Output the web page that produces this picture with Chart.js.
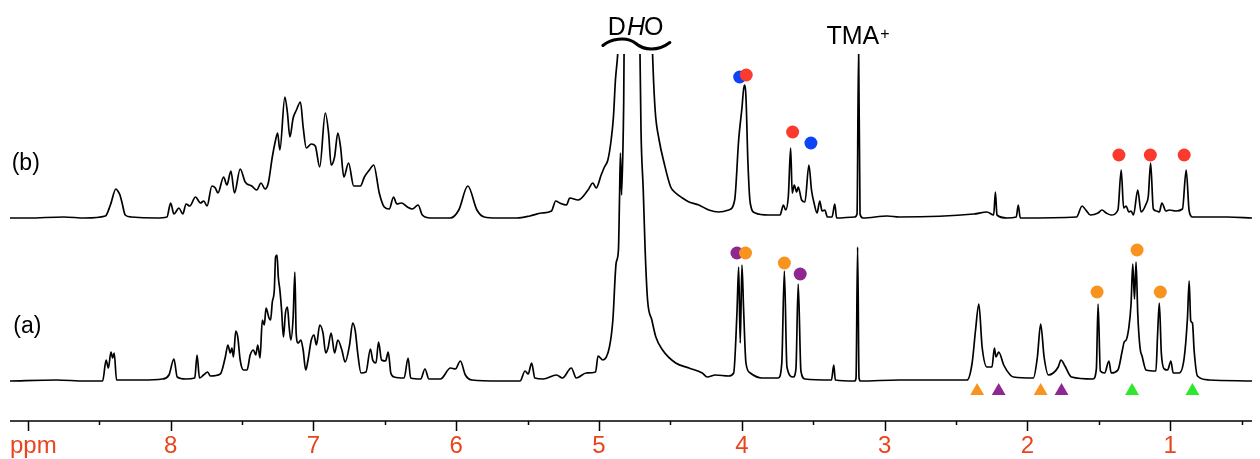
<!DOCTYPE html>
<html>
<head>
<meta charset="utf-8">
<script src="https://cdn.jsdelivr.net/npm/chart.js@4/dist/chart.umd.min.js"></script>
<style>
  html, body { margin: 0; padding: 0; background: #fff; }
  #wrap { width: 1260px; height: 459px; }
</style>
</head>
<body>
<div id="wrap"><canvas id="nmr"></canvas></div>
<script>
// spectrum (b): [ppm, intensity above its baseline]
const TRACE_B = [
  [9.125,0],[9.0,0],[8.75,1],[8.6,0],[8.457,2],[8.422,13],[8.383,29],[8.37,27],[8.355,23],[8.34,15],[8.318,3],[8.276,1],
  [8.10,0],[8.026,1],[8.000,15],[7.977,4],[7.942,10],[7.915,4],[7.892,14],[7.866,12],[7.826,21],[7.791,15],[7.768,17],
  [7.745,12],[7.711,32],[7.687,30],[7.669,25],[7.629,41],[7.606,33],[7.578,47],[7.553,25],[7.513,49],[7.478,36],
  [7.432,32],[7.397,28],[7.367,35],[7.339,29],[7.316,35],[7.288,61],[7.265,78],[7.251,85],[7.235,68],[7.200,121],
  [7.182,105],[7.165,81],[7.142,100],[7.119,108],[7.091,116],[7.072,91],[7.050,70],[7.015,74],[6.987,72],[6.956,51],
  [6.917,105],[6.894,85],[6.876,53],[6.852,61],[6.829,85],[6.810,71],[6.787,41],[6.754,55],[6.718,32],[6.671,32],
  [6.643,41],[6.608,48],[6.578,53],[6.539,25],[6.504,11],[6.469,9],[6.439,21],[6.416,14],[6.384,15],[6.342,11],
  [6.307,9],[6.267,13],[6.237,3],[6.180,0],[6.042,0],[5.982,8],[5.919,32],[5.855,8],[5.804,1],[5.715,0],[5.576,0],
  [5.484,2],[5.402,5],[5.333,7],[5.303,17],[5.275,15],[5.228,13],[5.205,20],[5.147,18],[5.077,28],[5.043,35],
  [5.020,30],[4.985,43],[4.962,51],[4.938,58],[4.915,78],[4.899,101],[4.885,138],[4.869,164],[4.860,190],[4.741,700],
  [4.630,190],[4.625,164],[4.607,108],[4.579,78],[4.544,55],[4.498,31],[4.463,25],[4.416,20],[4.370,16],[4.301,13],
  [4.231,8],[4.162,6],[4.092,8],[4.050,18],[4.022,78],[3.999,110],[3.983,133],[3.971,121],[3.957,55],[3.941,15],
  [3.906,5],[3.814,3],[3.732,3],[3.709,13],[3.693,8],[3.674,22],[3.658,70],[3.647,25],[3.633,33],[3.616,26],
  [3.605,31],[3.581,18],[3.558,16],[3.530,53],[3.512,28],[3.494,15],[3.473,5],[3.454,17],[3.438,7],[3.419,8],
  [3.400,1],[3.368,1],[3.349,14],[3.336,0],[3.210,1],[3.193,4],[3.182,170],[3.172,4],[3.152,0],[2.981,2],[2.897,1],
  [2.375,4],[2.283,6],[2.236,3],[2.224,26],[2.213,3],[2.143,0],[2.078,1],[2.064,13],[2.050,0],[1.656,1],[1.617,12],
  [1.591,8],[1.559,3],[1.505,5],[1.478,8],[1.448,5],[1.413,3],[1.366,8],[1.343,48],[1.326,10],[1.308,12],[1.290,6],
  [1.274,7],[1.257,3],[1.227,28],[1.204,6],[1.169,14],[1.153,22],[1.137,55],[1.118,9],[1.095,7],[1.076,6],[1.058,15],
  [1.030,7],[1.006,8],[0.960,7],[0.914,9],[0.888,48],[0.867,7],[0.844,1],[0.60,1],[0.427,0]
];

// spectrum (a)
const TRACE_A = [
  [9.125,0],[8.80,1],[8.60,0],[8.476,0],[8.452,21],[8.436,13],[8.418,29],[8.406,23],[8.395,28],[8.379,1],[8.20,1],
  [8.058,2],[8.012,6],[7.977,22],[7.954,4],[7.896,2],[7.831,3],[7.815,26],[7.798,3],[7.77,6],[7.741,9],[7.722,5],
  [7.652,7],[7.617,24],[7.599,36],[7.582,28],[7.571,33],[7.560,24],[7.544,50],[7.530,44],[7.513,21],[7.490,11],
  [7.465,11],[7.443,26],[7.420,31],[7.404,26],[7.390,36],[7.374,23],[7.358,61],[7.344,56],[7.332,73],[7.311,63],
  [7.300,61],[7.288,79],[7.274,91],[7.265,124],[7.255,126],[7.246,104],[7.235,91],[7.223,71],[7.210,44],[7.196,68],
  [7.182,74],[7.170,54],[7.158,41],[7.142,64],[7.130,109],[7.121,48],[7.107,38],[7.088,41],[7.072,31],[7.054,11],
  [7.038,21],[7.015,41],[6.996,46],[6.979,36],[6.956,56],[6.933,48],[6.914,28],[6.898,33],[6.876,48],[6.852,28],
  [6.829,41],[6.801,31],[6.778,19],[6.747,36],[6.725,58],[6.707,50],[6.690,28],[6.667,8],[6.632,9],[6.601,32],
  [6.585,21],[6.562,18],[6.544,39],[6.523,21],[6.495,20],[6.476,29],[6.458,8],[6.434,4],[6.365,3],[6.337,23],
  [6.319,3],[6.249,2],[6.219,12],[6.191,2],[6.110,2],[6.040,13],[6.006,12],[5.971,20],[5.936,6],[5.889,1],[5.70,0],
  [5.553,0],[5.518,10],[5.496,7],[5.472,18],[5.449,3],[5.391,2],[5.298,6],[5.256,3],[5.194,13],[5.159,3],[5.089,8],
  [5.024,9],[5.007,25],[4.973,21],[4.927,34],[4.903,61],[4.880,118],[4.864,131],[4.856,186],[4.850,228],[4.842,186],
  [4.830,251],[4.827,280],[4.821,400],[4.769,900],[4.717,400],[4.713,327],[4.706,251],[4.690,190],[4.677,131],
  [4.660,81],[4.630,61],[4.602,44],[4.555,31],[4.463,18],[4.370,13],[4.277,8],[4.242,4],[4.185,6],[4.092,5],
  [4.057,8],[4.034,68],[4.022,114],[4.011,38],[3.999,116],[3.988,74],[3.971,18],[3.941,8],[3.860,3],[3.744,3],
  [3.720,18],[3.702,110],[3.684,14],[3.640,4],[3.621,12],[3.605,97],[3.586,10],[3.558,2],[3.372,1],[3.356,16],
  [3.345,1],[3.210,0],[3.200,3],[3.189,134],[3.179,3],[3.168,0],[2.90,1],[2.422,1],[2.387,18],[2.363,51],[2.340,77],
  [2.317,34],[2.283,14],[2.248,14],[2.231,33],[2.220,24],[2.201,29],[2.166,16],[2.120,6],[2.097,4],[1.958,3],
  [1.930,24],[1.907,57],[1.883,24],[1.853,6],[1.819,8],[1.784,14],[1.765,21],[1.737,15],[1.691,4],[1.540,2],
  [1.517,12],[1.505,77],[1.489,10],[1.459,8],[1.429,20],[1.413,8],[1.366,11],[1.336,30],[1.322,39],[1.308,41],
  [1.290,53],[1.274,77],[1.262,117],[1.250,82],[1.239,119],[1.227,67],[1.211,33],[1.197,25],[1.169,11],[1.100,10],
  [1.088,47],[1.076,78],[1.062,28],[1.041,12],[1.018,11],[0.995,20],[0.979,8],[0.937,8],[0.902,23],[0.879,63],
  [0.867,100],[0.856,60],[0.844,58],[0.832,30],[0.809,5],[0.728,1],[0.427,0]
];

// peak markers: [ppm, height above baseline]
const DOT_B_RED = [[3.969,143],[3.644,86],[1.359,63],[1.139,63],[0.902,63]];
const DOT_B_BLUE = [[4.015,141],[3.516,75]];
const DOT_A_ORANGE = [[3.974,128],[3.702,118],[1.512,89],[1.232,131],[1.069,89]];
const DOT_A_PURPLE = [[4.034,128],[3.591,107]];
const TRI_A_ORANGE = [[2.352,-10],[1.907,-10]];
const TRI_A_PURPLE = [[2.201,-10],[1.761,-10]];
const TRI_A_GREEN = [[1.267,-10],[0.844,-10]];

const TICK_PPM = [8, 7, 6, 5, 4, 3, 2, 1];
const TICK_LABELS = ["8", "7", "6", "5", "4", "3", "2", "1"];

const X_MIN = 0.427, X_MAX = 9.125;
const BASE_A = 40, BASE_B = 203;   // baseline heights of the two spectra
const FONT = '"Liberation Sans", Arial, Helvetica, sans-serif';
const AXIS_COLOR = "#e8451c";

const toXY = (list, base) => list.map(([p, h]) => ({ x: p, y: h + base }));

const dots = (list, base, color, style, r) => ({
  type: "scatter",
  data: toXY(list, base),
  showLine: false,
  pointStyle: style,
  pointRadius: r,
  pointBackgroundColor: color,
  pointBorderColor: color,
  pointBorderWidth: 0,
  clip: false,
});

const trace = (list, base) => ({
  type: "line",
  data: toXY(list, base),
  borderColor: "#000",
  borderWidth: 1.7,
  borderJoinStyle: "round",
  pointRadius: 0,
  cubicInterpolationMode: "monotone",
  fill: false,
  clip: 0,
});

// axis, labels and annotations
const decor = {
  id: "decor",
  afterDraw(chart) {
    const ctx = chart.ctx;
    const xs = chart.scales.x, ys = chart.scales.y;
    const area = chart.chartArea;
    const yAxis = area.bottom;
    ctx.save();
    ctx.strokeStyle = "#000";
    ctx.lineWidth = 1.5;
    ctx.beginPath();
    ctx.moveTo(area.left, yAxis);
    ctx.lineTo(area.right, yAxis);
    for (let v = 9; v >= 0.5; v -= 0.5) {
      const px = Math.round(xs.getPixelForValue(v)) + 0.5;
      ctx.moveTo(px, yAxis);
      ctx.lineTo(px, yAxis + (v % 1 === 0 ? 10 : 4));
    }
    ctx.stroke();

    ctx.fillStyle = AXIS_COLOR;
    ctx.font = "24px " + FONT;
    ctx.textBaseline = "alphabetic";
    ctx.textAlign = "center";
    TICK_PPM.forEach((v, i) => ctx.fillText(TICK_LABELS[i], xs.getPixelForValue(v), 453));
    ctx.textAlign = "left";
    ctx.fillText("ppm", area.left, 453);

    // spectrum labels
    ctx.fillStyle = "#000";
    ctx.font = "23px " + FONT;
    ctx.fillText("(b)", xs.getPixelForValue(9.113), ys.getPixelForValue(251));
    ctx.fillText("(a)", xs.getPixelForValue(9.102), ys.getPixelForValue(88));

    // DHO with italic H
    let x = xs.getPixelForValue(4.938);
    const yD = ys.getPixelForValue(386.5);
    ctx.font = "25px " + FONT;
    ctx.fillText("D", x, yD);
    x += ctx.measureText("D").width + 1;
    ctx.font = "italic 25px " + FONT;
    ctx.fillText("H", x, yD);
    x += ctx.measureText("H").width - 1;
    ctx.font = "25px " + FONT;
    ctx.fillText("O", x, yD);

    // brace under DHO
    const bx = xs.getPixelForValue(4.938) - 5;
    const by = yD + 11;
    ctx.lineWidth = 3;
    ctx.lineCap = "round";
    ctx.beginPath();
    ctx.moveTo(bx, by);
    ctx.bezierCurveTo(bx + 7, by - 6, bx + 23, by - 10, bx + 33, by - 2);
    ctx.bezierCurveTo(bx + 41, by + 5, bx + 55, by + 6, bx + 67, by - 3);
    ctx.stroke();

    // TMA+
    let tx = xs.getPixelForValue(3.407);
    const yT = ys.getPixelForValue(377.5);
    ctx.font = "25px " + FONT;
    ctx.fillText("TMA", tx, yT);
    tx += ctx.measureText("TMA").width + 1;
    ctx.font = "16px " + FONT;
    ctx.fillText("+", tx, yT - 5);
    ctx.restore();
  },
};

new Chart(document.getElementById("nmr"), {
  type: "line",
  data: {
    datasets: [
      dots(DOT_B_RED, BASE_B, "#fa3a2c", "circle", 6.5),
      dots(DOT_B_BLUE, BASE_B, "#0c44f6", "circle", 6.5),
      dots(DOT_A_ORANGE, BASE_A, "#f7931e", "circle", 6.5),
      dots(DOT_A_PURPLE, BASE_A, "#8e278f", "circle", 6.5),
      dots(TRI_A_ORANGE, BASE_A, "#f7931e", "triangle", 8),
      dots(TRI_A_PURPLE, BASE_A, "#8e278f", "triangle", 8),
      dots(TRI_A_GREEN, BASE_A, "#2ee82e", "triangle", 8),
      trace(TRACE_A, BASE_A),
      trace(TRACE_B, BASE_B),
    ],
  },
  options: {
    responsive: true,
    maintainAspectRatio: false,
    animation: false,
    layout: { padding: { left: 10, right: 0, top: 54, bottom: 38 } },
    scales: {
      x: { type: "linear", reverse: true, min: X_MIN, max: X_MAX, display: false },
      y: { type: "linear", min: 0, max: 367, display: false },
    },
    plugins: {
      legend: { display: false },
      tooltip: { enabled: false },
    },
  },
  plugins: [decor],
});
</script>
</body>
</html>
